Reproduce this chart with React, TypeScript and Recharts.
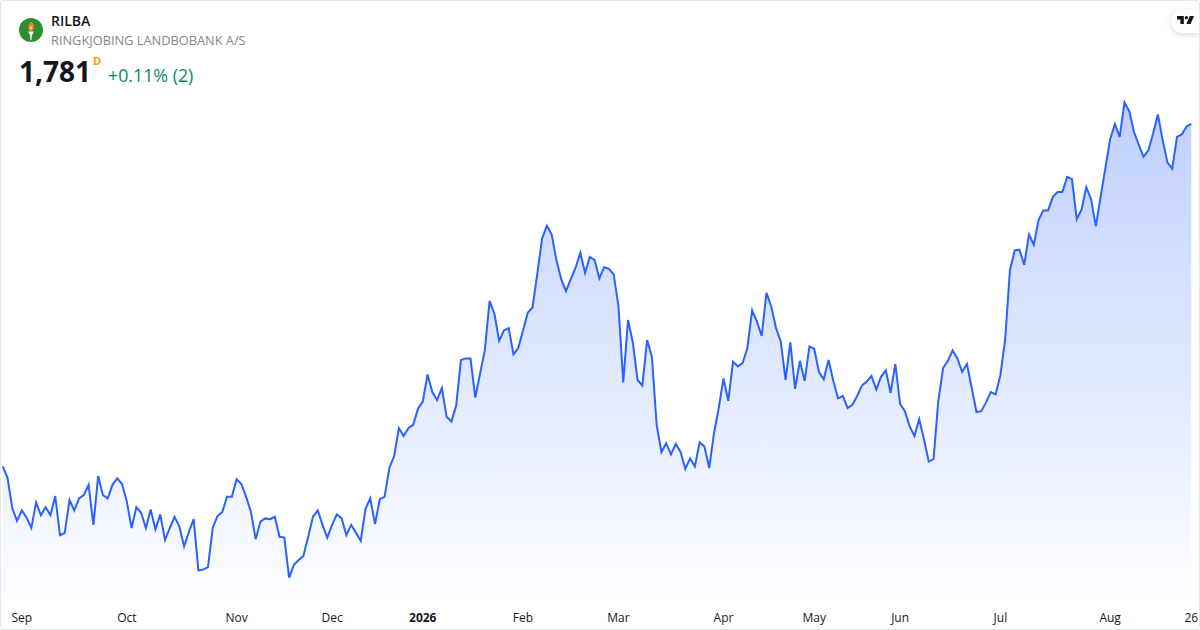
import React from 'react';
import { AreaChart, Area, XAxis, YAxis } from 'recharts';

const closes = [
  1353, 1339, 1301, 1285, 1298, 1289, 1276, 1308, 1292, 1302, 1292, 1316, 1267, 1270, 1311, 1298, 1313, 1317, 1330, 1280,
  1341, 1317, 1313, 1330, 1338, 1331, 1309, 1276, 1302, 1295, 1276, 1299, 1274, 1293, 1261, 1276, 1290, 1278, 1253, 1271,
  1287, 1223, 1224, 1227, 1276, 1291, 1296, 1315, 1315, 1337, 1331, 1315, 1296, 1262, 1284, 1288, 1287, 1290, 1265, 1264,
  1214, 1230, 1236, 1241, 1265, 1290, 1298, 1280, 1264, 1280, 1293, 1288, 1267, 1280, 1270, 1260, 1300, 1313, 1281, 1312,
  1315, 1351, 1366, 1401, 1391, 1401, 1405, 1425, 1434, 1468, 1446, 1436, 1451, 1415, 1409, 1429, 1486, 1488, 1488, 1439,
  1469, 1498, 1560, 1544, 1510, 1523, 1526, 1493, 1501, 1523, 1545, 1552, 1594, 1638, 1654, 1643, 1611, 1587, 1572, 1587,
  1601, 1620, 1595, 1615, 1611, 1588, 1602, 1600, 1593, 1553, 1458, 1536, 1508, 1461, 1454, 1511, 1490, 1405, 1371, 1382,
  1368, 1381, 1371, 1350, 1363, 1353, 1383, 1378, 1351, 1394, 1426, 1463, 1435, 1484, 1478, 1482, 1501, 1548, 1534, 1516,
  1570, 1553, 1526, 1509, 1461, 1508, 1450, 1485, 1460, 1503, 1500, 1471, 1462, 1486, 1460, 1438, 1441, 1426, 1430, 1441,
  1454, 1459, 1466, 1449, 1465, 1473, 1445, 1481, 1431, 1422, 1403, 1391, 1412, 1387, 1359, 1362, 1435, 1476, 1485, 1498,
  1488, 1471, 1481, 1451, 1421, 1422, 1433, 1446, 1443, 1467, 1511, 1598, 1623, 1624, 1605, 1643, 1630, 1661, 1673, 1673,
  1690, 1696, 1696, 1715, 1712, 1662, 1674, 1702, 1687, 1653, 1690, 1726, 1762, 1781, 1765, 1808, 1797, 1771, 1755, 1740,
  1748, 1769, 1793, 1761, 1733, 1725, 1765, 1768, 1778, 1781,
];

// session number where each axis label sits
const tickDays = [4, 26, 49, 69, 88, 109, 129, 151, 170, 188, 209, 232, 249];
const tickLabels = ['Sep', 'Oct', 'Nov', 'Dec', '2026', 'Feb', 'Mar', 'Apr', 'May', 'Jun', 'Jul', 'Aug', '26'];

const chartData = closes.map((close, day) => ({ day, close }));
const font = '"Open Sans", sans-serif';

function MonthTick({ x, y, payload }: any) {
  const label = tickLabels[tickDays.indexOf(payload.value)];
  return (
    <text
      x={x}
      y={y + 16}
      textAnchor="middle"
      fontFamily={font}
      fontSize={12}
      fontWeight={label === '2026' ? 700 : 400}
      fill="#131722"
    >
      {label}
    </text>
  );
}

function Header() {
  return (
    <div style={{ position: 'absolute', left: 0, top: 0, fontFamily: font, pointerEvents: 'none' }}>
      <svg width={24} height={24} viewBox="0 0 24 24" style={{ position: 'absolute', left: 19, top: 17.5 }}>
        <circle cx={12} cy={12} r={12} fill="#2d8f2f" />
        <path d="M12.2 3.4c2.2 2.2 3.5 4.2 2.8 6.6-.4 1.5-1.5 2.7-3 3.2-1.6-.5-2.8-1.8-3-3.4-.2-2.2 1.6-3.9 3.2-6.4z" fill="#e8832a" />
        <path d="M12 7.5c.8 1.2 1.2 2.2.8 3.2-.2.6-.5 1-.8 1.2-.5-.3-.9-.8-1-1.4-.1-1 .4-1.9 1-3z" fill="#f6d9a8" />
        <path d="M9.2 13.6h5.6l-1.2 3h-.7l-.4 5.6h-1l-.4-5.6h-.7z" fill="#ffffff" />
      </svg>
      <div style={{ position: 'absolute', left: 51, top: 12, fontSize: 14, lineHeight: '18px', fontWeight: 600, color: '#131722', whiteSpace: 'nowrap' }}>
        RILBA
      </div>
      <div style={{ position: 'absolute', left: 51, top: 32, fontSize: 12.8, lineHeight: '17px', color: '#868686', whiteSpace: 'nowrap' }}>
        RINGKJOBING LANDBOBANK A/S
      </div>
      <div style={{ position: 'absolute', left: 19, top: 52, fontSize: 28, lineHeight: '38px', fontWeight: 700, color: '#131722', whiteSpace: 'nowrap' }}>
        1,781
      </div>
      <div style={{ position: 'absolute', left: 93, top: 53, fontSize: 11, lineHeight: '15px', fontWeight: 700, color: '#ff9800' }}>
        D
      </div>
      <div style={{ position: 'absolute', left: 108, top: 63, fontSize: 17.8, lineHeight: '24px', color: '#08876f', whiteSpace: 'nowrap' }}>
        +0.11% (2)
      </div>
    </div>
  );
}

function TvBadge() {
  return (
    <div
      style={{
        position: 'absolute',
        left: 1171,
        top: 9,
        width: 29,
        height: 24,
        background: '#fff',
        borderRadius: '12px 0 0 12px',
        boxShadow: '0 2px 6px rgba(0,0,0,0.14)',
      }}
    >
      <svg width={17} height={9} viewBox="0 0 20 10" preserveAspectRatio="none" style={{ position: 'absolute', left: 6, top: 7 }}>
        <path d="M0 0h8v9H4V4H0z" fill="#131722" />
        <circle cx={11} cy={2} r={1.9} fill="#131722" />
        <path d="M15 0h5l-4 9h-5z" fill="#131722" />
      </svg>
    </div>
  );
}

export default function App() {
  return (
    <div
      style={{
        position: 'absolute',
        left: 0,
        top: 0,
        width: 1200,
        height: 630,
        background: '#fff',
        overflow: 'hidden',
      }}
    >
      <AreaChart width={1200} height={630} data={chartData} margin={{ top: 0, right: 8.7, bottom: 0, left: 2.7 }}>
        <defs>
          <linearGradient id="closeFill" x1="0" y1="0" x2="0" y2="1">
            <stop offset="0%" stopColor="#2962ff" stopOpacity={0.3} />
            <stop offset="100%" stopColor="#2962ff" stopOpacity={0.01} />
          </linearGradient>
        </defs>
        <XAxis
          dataKey="day"
          type="category"
          height={30}
          ticks={tickDays}
          interval={0}
          axisLine={false}
          tickLine={false}
          tickMargin={0}
          tick={<MonthTick />}
        />
        <YAxis hide domain={[1186, 1936]} />
        <Area
          type="linear"
          dataKey="close"
          stroke="#2962ff"
          strokeWidth={2}
          fill="url(#closeFill)"
          fillOpacity={1}
          baseValue={1186}
          dot={false}
          activeDot={false}
          isAnimationActive={false}
        />
      </AreaChart>
      <Header />
      <TvBadge />
      <div
        style={{
          position: 'absolute',
          left: 0,
          top: 0,
          width: 1198,
          height: 628,
          border: '1px solid #e8e8e8',
          borderRadius: 3,
          pointerEvents: 'none',
        }}
      />
    </div>
  );
}
